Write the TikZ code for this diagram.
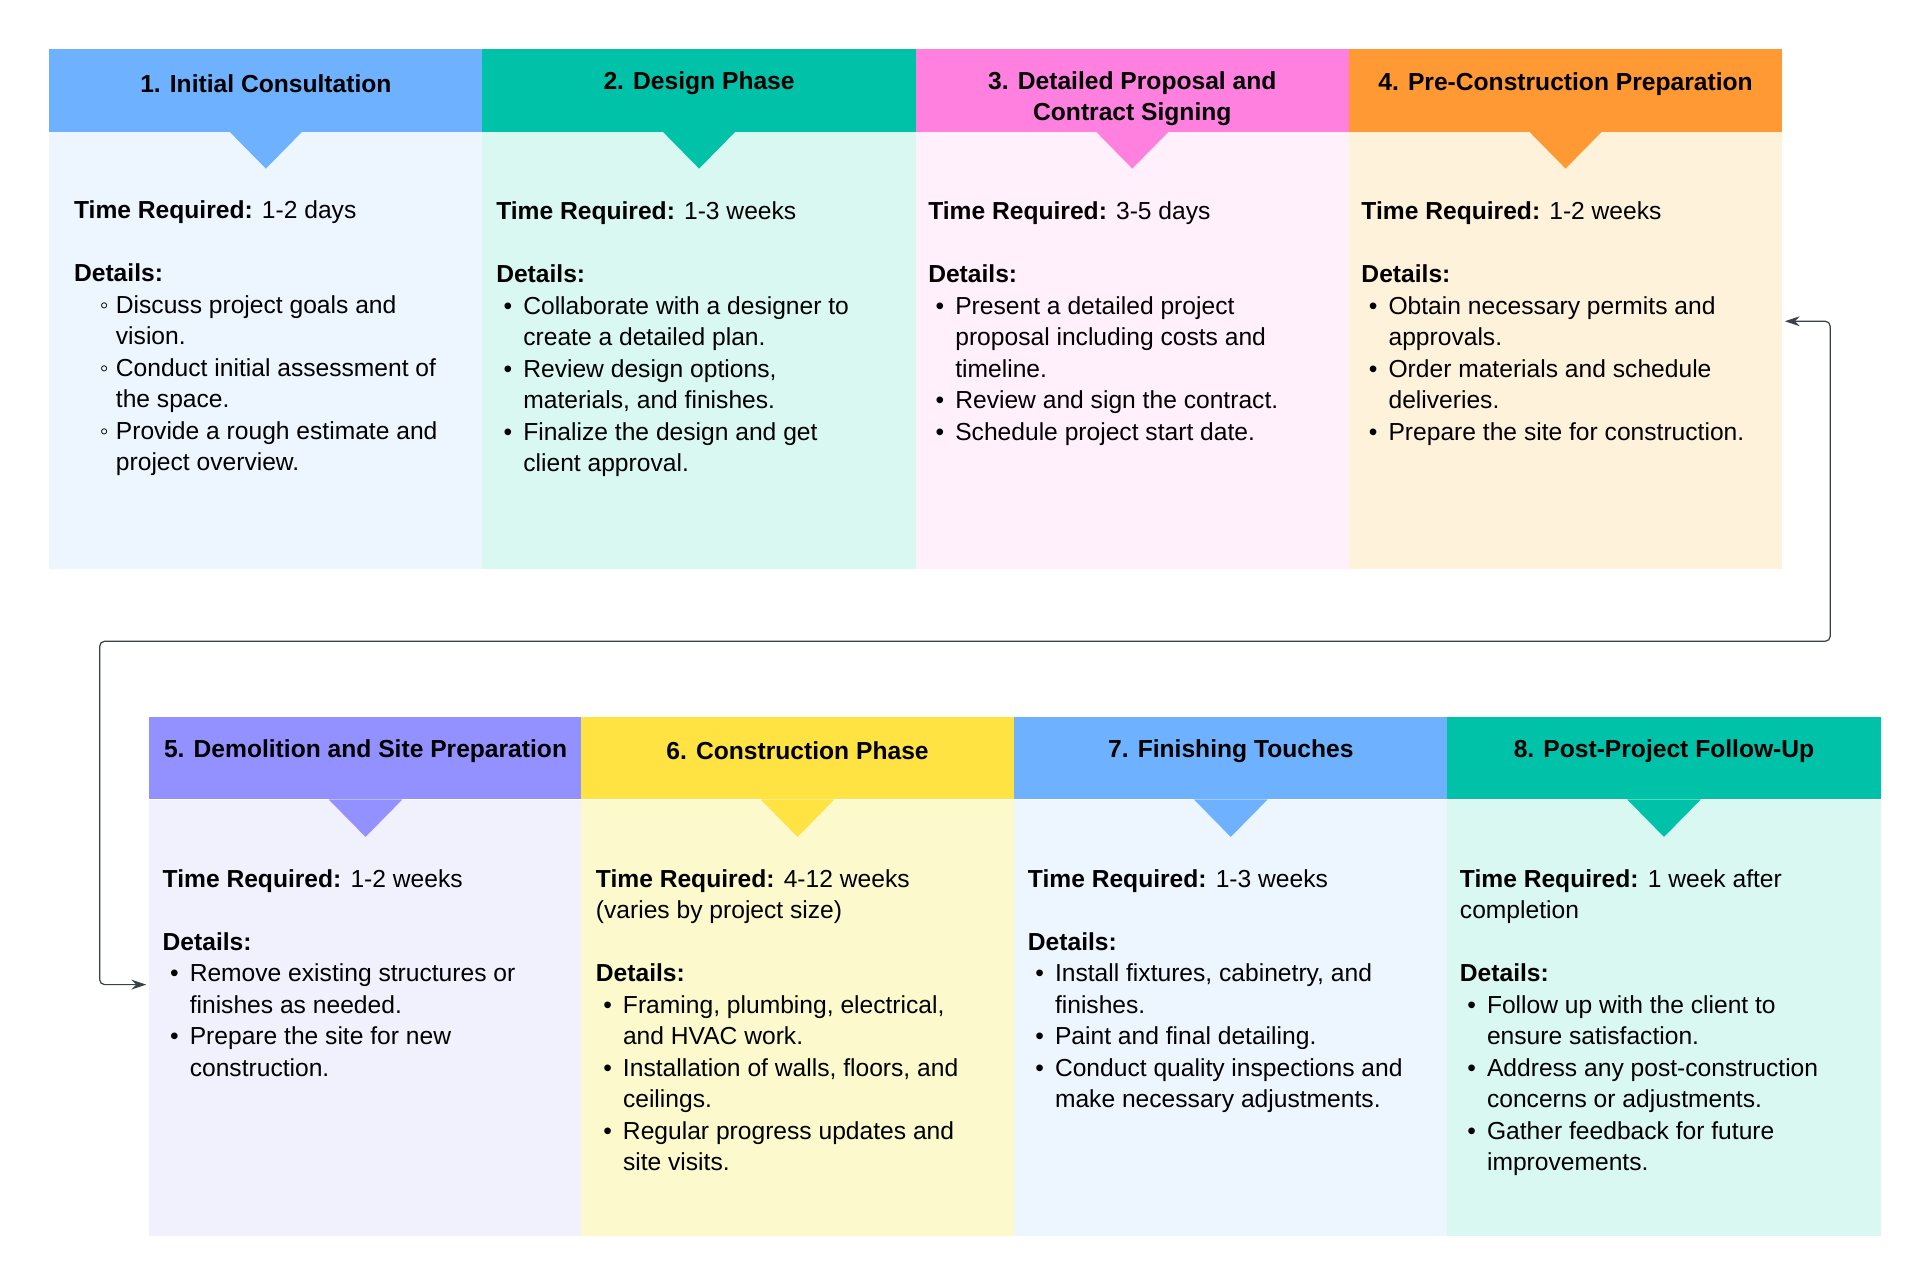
\documentclass[tikz,border=0pt]{standalone}
\usepackage{fontspec}
\setmainfont{Liberation Sans}
\usetikzlibrary{arrows.meta}
\definecolor{hblue}{HTML}{6DB1FF}\definecolor{bblue}{HTML}{EDF5FF}
\definecolor{hteal}{HTML}{00C2A8}\definecolor{bteal}{HTML}{D9F8F2}
\definecolor{hpink}{HTML}{FF80DF}\definecolor{bpink}{HTML}{FFF0FB}
\definecolor{horange}{HTML}{FF9933}\definecolor{borange}{HTML}{FFF2DB}
\definecolor{hpurple}{HTML}{9291FF}\definecolor{bpurple}{HTML}{F1F1FD}
\definecolor{hyellow}{HTML}{FFE342}\definecolor{byellow}{HTML}{FCF9CC}
\definecolor{lnk}{HTML}{3A414A}
\newcommand\bl[1]{\makebox[22pt][l]{\hspace*{6pt}•}#1}
\newcommand\cl[1]{\hspace*{22pt}#1}
\newcommand\wl[1]{\makebox[34pt][l]{\hspace*{21pt}◦}#1}
\newcommand\wc[1]{\hspace*{34pt}#1}
\begin{document}
\begin{tikzpicture}[x=1pt,y=-1pt,
  hdr/.style={minimum width=352pt,minimum height=67pt,inner sep=0pt,align=center,font=\fontsize{20}{25.6}\selectfont\bfseries},
  bodybox/.style={minimum width=352pt,minimum height=355pt,inner sep=0pt},
  txt/.style={anchor=north west,align=left,inner sep=0pt,font=\fontsize{20}{25.6}\selectfont},
  link/.style={draw=lnk,line width=1pt,rounded corners=4pt}]
\useasboundingbox (0,0) rectangle (1560,1040);
% row 1
\foreach \i/\x/\hc/\bc in {1/216/hblue/bblue,2/568/hteal/bteal,3/920/hpink/bpink,4/1272/horange/borange}{
  \node[bodybox,fill=\bc] (b\i) at (\x,284.5) {};
  \node[hdr,fill=\hc] (h\i) at (\x,73.5) {};
  \fill[\hc] (\x-30,106.5) -- (\x,137) -- (\x+30,106.5) -- cycle;
}
\foreach \i/\x/\hc/\bc in {5/297/hpurple/bpurple,6/648/hyellow/byellow,7/1000/hblue/bblue,8/1352/hteal/bteal}{
  \node[bodybox,fill=\bc,minimum height=354pt] (b\i) at (\x,827) {};
  \node[hdr,fill=\hc] (h\i) at (\x,616) {};
  \fill[\hc] (\x-30,649.5) -- (\x,680) -- (\x+30,649.5) -- cycle;
}
\node[hdr] (l1) at (216,68) {1. Initial Consultation};
\node[hdr] (l2) at (568,68) {2. Design Phase};
\node[hdr] (l3) at (920,80) {3. Detailed Proposal and\\Contract Signing};
\node[hdr] (l4) at (1272,68) {4. Pre-Construction Preparation};
\node[hdr] (l5) at (297,610) {5. Demolition and Site Preparation};
\node[hdr] (l6) at (648,610) {6. Construction Phase};
\node[hdr] (l7) at (1000,610) {7. Finishing Touches};
\node[hdr] (l8) at (1352,610) {8. Post-Project Follow-Up};
% texts
\node[txt] (t1) at (60,163) {\textbf{Time Required:} 1-2 days\\ \\ \textbf{Details:}\\
\wl{Discuss project goals and}\\ \wc{vision.}\\ \wl{Conduct initial assessment of}\\ \wc{the space.}\\ \wl{Provide a rough estimate and}\\ \wc{project overview.}};
\node[txt] (t2) at (403,164) {\textbf{Time Required:} 1-3 weeks\\ \\ \textbf{Details:}\\
\bl{Collaborate with a designer to}\\ \cl{create a detailed plan.}\\ \bl{Review design options,}\\ \cl{materials, and finishes.}\\ \bl{Finalize the design and get}\\ \cl{client approval.}};
\node[txt] (t3) at (754,164) {\textbf{Time Required:} 3-5 days\\ \\ \textbf{Details:}\\
\bl{Present a detailed project}\\ \cl{proposal including costs and}\\ \cl{timeline.}\\ \bl{Review and sign the contract.}\\ \bl{Schedule project start date.}};
\node[txt] (t4) at (1106,164) {\textbf{Time Required:} 1-2 weeks\\ \\ \textbf{Details:}\\
\bl{Obtain necessary permits and}\\ \cl{approvals.}\\ \bl{Order materials and schedule}\\ \cl{deliveries.}\\ \bl{Prepare the site for construction.}};
\node[txt] (t5) at (132,706) {\textbf{Time Required:} 1-2 weeks\\ \\ \textbf{Details:}\\
\bl{Remove existing structures or}\\ \cl{finishes as needed.}\\ \bl{Prepare the site for new}\\ \cl{construction.}};
\node[txt] (t6) at (484,706) {\textbf{Time Required:} 4-12 weeks\\ (varies by project size)\\ \\ \textbf{Details:}\\
\bl{Framing, plumbing, electrical,}\\ \cl{and HVAC work.}\\ \bl{Installation of walls, floors, and}\\ \cl{ceilings.}\\ \bl{Regular progress updates and}\\ \cl{site visits.}};
\node[txt] (t7) at (835,706) {\textbf{Time Required:} 1-3 weeks\\ \\ \textbf{Details:}\\
\bl{Install fixtures, cabinetry, and}\\ \cl{finishes.}\\ \bl{Paint and final detailing.}\\ \bl{Conduct quality inspections and}\\ \cl{make necessary adjustments.}};
\node[txt] (t8) at (1186,706) {\textbf{Time Required:} 1 week after\\ completion\\ \\ \textbf{Details:}\\
\bl{Follow up with the client to}\\ \cl{ensure satisfaction.}\\ \bl{Address any post-construction}\\ \cl{concerns or adjustments.}\\ \bl{Gather feedback for future}\\ \cl{improvements.}};
% connector
\coordinate (p4) at (b4.east |- 0,261);
\coordinate (p5) at (b5.west |- 0,800);
\draw[link,{Stealth[length=12pt,width=8pt]}-{Stealth[length=12pt,width=8pt]},shorten <=2pt,shorten >=2pt]
  (p4) -- (1487,261) -- (1487,521) -- (81,521) -- (81,800) -- (p5);
\end{tikzpicture}
\end{document}
